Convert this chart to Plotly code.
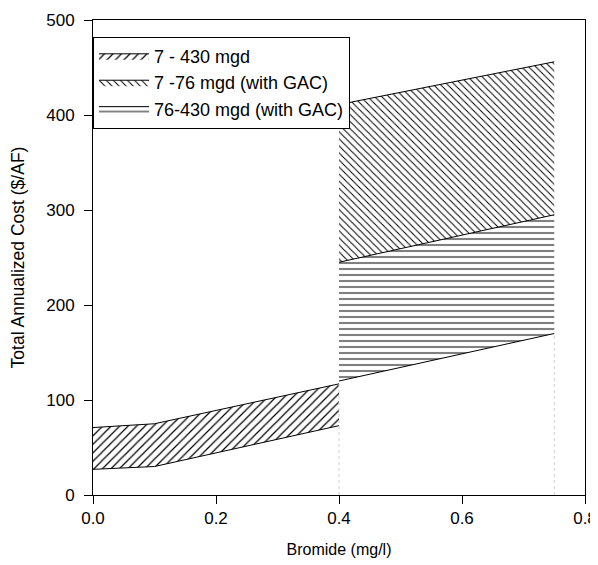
import plotly.graph_objects as go

# Data
x_small = [0.0, 0.1, 0.4]
small_lower = [27, 30, 73]
small_upper = [71, 75, 117]

x_gac = [0.4, 0.75]
large_gac_lower = [120, 170]
large_gac_upper = [245, 295]
small_gac_upper = [411, 456]

names = ["7 - 430 mgd", "7 -76 mgd (with GAC)", "76-430 mgd (with GAC)"]

FONT = "Arial, Liberation Sans, sans-serif"
fig = go.Figure()

# 7 - 430 mgd band
fig.add_trace(go.Scatter(x=x_small, y=small_lower, mode="lines",
                         line=dict(color="black", width=1), showlegend=False,
                         hoverinfo="skip"))
fig.add_trace(go.Scatter(x=x_small, y=small_upper, mode="lines", fill="tonexty",
                         name=names[0], legendrank=1,
                         line=dict(color="black", width=1), fillcolor="white",
                         fillpattern=dict(shape="/", fgcolor="black", bgcolor="white",
                                          fillmode="replace", size=6, solidity=0.2)))

# 76-430 mgd (with GAC) band
fig.add_trace(go.Scatter(x=x_gac, y=large_gac_lower, mode="lines",
                         line=dict(color="black", width=1), showlegend=False,
                         hoverinfo="skip"))
fig.add_trace(go.Scatter(x=x_gac, y=large_gac_upper, mode="lines", fill="tonexty",
                         name=names[2], legendrank=3,
                         line=dict(color="black", width=1), fillcolor="white",
                         fillpattern=dict(shape="-", fgcolor="#808080", bgcolor="white",
                                          fillmode="replace", size=6, solidity=0.35)))

# 7-76 mgd (with GAC) band
fig.add_trace(go.Scatter(x=x_gac, y=small_gac_upper, mode="lines", fill="tonexty",
                         name=names[1], legendrank=2,
                         line=dict(color="black", width=1), fillcolor="white",
                         fillpattern=dict(shape="\\", fgcolor="black", bgcolor="white",
                                          fillmode="replace", size=5, solidity=0.2)))

# light dotted drop lines at the band ends
fig.add_trace(go.Scatter(x=[x_gac[0], x_gac[0]], y=[0, large_gac_lower[0]], mode="lines",
                         line=dict(color="#cfcfcf", width=1, dash="dot"),
                         showlegend=False, hoverinfo="skip"))
fig.add_trace(go.Scatter(x=[x_gac[1], x_gac[1]], y=[0, large_gac_lower[1]], mode="lines",
                         line=dict(color="#cfcfcf", width=1, dash="dot"),
                         showlegend=False, hoverinfo="skip"))

# the page adds an 8px body margin, so the figure is shifted by 8px
fig.update_layout(
    width=590, height=557,
    margin=dict(l=85, r=13, t=12, b=70, autoexpand=False),
    paper_bgcolor="white", plot_bgcolor="white",
    font=dict(family=FONT, size=17, color="black"),
    showlegend=True,
    legend=dict(x=0, y=0.965, xanchor="left", yanchor="top",
                bordercolor="black", borderwidth=1, bgcolor="white",
                font=dict(family=FONT, size=18), itemwidth=50,
                tracegroupgap=0, traceorder="normal"),
    xaxis=dict(range=[0, 0.8], tickvals=[0, 0.2, 0.4, 0.6, 0.8], tickformat=".1f",
               automargin=False,
               showgrid=False, zeroline=False, showline=True, linecolor="black",
               linewidth=1, mirror=True, ticks="outside", ticklen=8, tickcolor="black",
               title=dict(text="Bromide (mg/l)", font=dict(size=16), standoff=16)),
    yaxis=dict(range=[0, 500], tickvals=[0, 100, 200, 300, 400, 500],
               automargin=False, ticklabelstandoff=6,
               showgrid=False, zeroline=False, showline=True, linecolor="black",
               linewidth=1, mirror=True, ticks="outside", ticklen=8, tickcolor="black",
               title=dict(text="Total Annualized Cost ($/AF)", font=dict(size=17.5), standoff=17)),
)

fig.write_html("out.html")
